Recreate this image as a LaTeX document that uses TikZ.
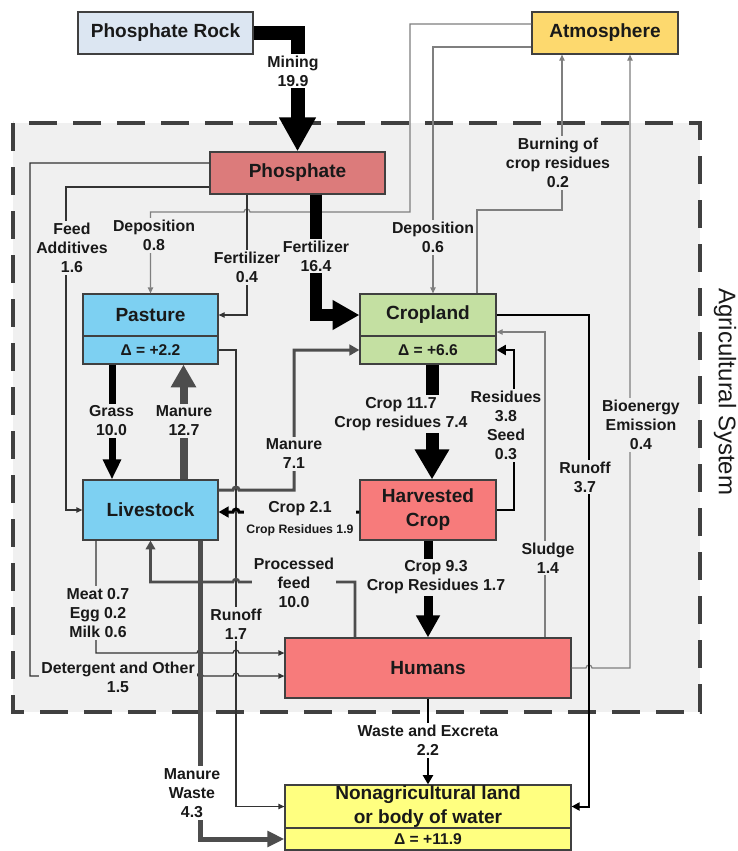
\documentclass[tikz,border=0pt]{standalone}
\usepackage{fontspec}
\setmainfont{Liberation Sans}
\usetikzlibrary{arrows.meta,calc}
\newdimen\pxu \pxu=0.75pt
\definecolor{bgc}{HTML}{F0F0F0}
\definecolor{boxline}{HTML}{404040}
\definecolor{rockc}{HTML}{DCE6F2}
\definecolor{atmc}{HTML}{FDD96E}
\definecolor{phosc}{HTML}{DC7B7B}
\definecolor{pastc}{HTML}{7DD0F2}
\definecolor{cropc}{HTML}{C4E0A2}
\definecolor{harvc}{HTML}{F77B7B}
\definecolor{nonagc}{HTML}{FFFF80}
\definecolor{mang}{HTML}{4D4D4D}
\definecolor{thing}{HTML}{7F7F7F}
\begin{document}
\begin{tikzpicture}[x=0.75pt,y=0.75pt,
  box/.style={draw=boxline,line width=0.9pt,inner sep=0pt,align=center,
    font=\bfseries\fontsize{14.3}{18}\selectfont,text=black!90},
  dbox/.style={box,font=\bfseries\fontsize{11.7}{14}\selectfont},
  lab/.style={font=\bfseries\fontsize{11.9}{14.25}\selectfont,align=center,
    fill=bgc,inner sep=1.5pt,text=black!90},
  wlab/.style={lab,fill=white},
  thinl/.style={draw=black!80,line width=0.9pt,-{Triangle[length=4.5pt,width=4pt]}},
  grayl/.style={draw=thing,line width=0.9pt,-{Triangle[length=4.5pt,width=4pt]}},
  sysborder/.style={draw=black!75,line width=2.6pt,dash pattern=on 21pt off 12pt}
]
\useasboundingbox (0,0) rectangle (738,-851);
\fill[white] (0,0) rectangle (738,-851);

% agricultural system frame
\fill[bgc] (13,-123) rectangle (700,-712);
\draw[sysborder] (13,-123) rectangle (700,-712);
\node[rotate=-90,font=\fontsize{18}{20}\selectfont,text=black!90] (agri) at (725,-392) {Agricultural System};

% boxes
\node[box,fill=rockc,minimum width=175\pxu,minimum height=42\pxu] (rock) at (165.5,-33) {Phosphate Rock};
\node[box,fill=atmc,minimum width=146\pxu,minimum height=42\pxu] (atm) at (605,-33) {Atmosphere};
\node[box,fill=phosc,minimum width=175\pxu,minimum height=42\pxu] (phos) at (297.5,-173) {Phosphate};
\node[box,fill=pastc,minimum width=135\pxu,minimum height=42\pxu] (past) at (150.5,-315) {Pasture};
\node[dbox,fill=pastc,minimum width=135\pxu,minimum height=28\pxu] (pastd) at (150.5,-350) {Δ = +2.2};
\node[box,fill=cropc,minimum width=136\pxu,minimum height=42\pxu] (crop) at (428,-315) {Cropland};
\node[dbox,fill=cropc,minimum width=136\pxu,minimum height=28\pxu] (cropd) at (428,-350) {Δ = +6.6};
\node[box,fill=pastc,minimum width=135\pxu,minimum height=60\pxu] (live) at (150.5,-510) {Livestock};
\node[box,fill=harvc,minimum width=136\pxu,minimum height=60\pxu] (harv) at (428,-510) {Harvested\\Crop};
\node[box,fill=harvc,minimum width=286\pxu,minimum height=60\pxu] (hum) at (428,-668) {Humans};
\node[box,fill=nonagc,minimum width=286\pxu,minimum height=43\pxu] (nonag) at (428,-806.5) {Nonagricultural land\\or body of water};
\node[dbox,fill=nonagc,minimum width=286\pxu,minimum height=22\pxu] (nonagd) at (428,-839) {Δ = +11.9};

% thin connectors
\draw[grayl] ($(atm.west)+(0,9)$) -| (410,-212) -- (250,-212)
  arc[start angle=0,end angle=180,radius=2.25pt] -| (past.north);
\draw[grayl] ($(atm.west)+(0,-14)$) -| ($(crop.north)+(5,0)$);
\draw[grayl] ($(crop.north)+(49,0)$) |- (562,-210) -- ($(atm.south)+(-43,0)$);
\draw[thinl] ($(phos.south)+(-50.5,0)$) |- (past.east);
\draw[thinl] ($(phos.west)+(0,-14)$) -- (66,-187) |- (live.west);
\draw[thinl] ($(phos.west)+(0,10)$) -- (30,-163) -- (30,-676) -- (197,-676)
  arc[start angle=180,end angle=0,radius=2.25pt] -- (233,-676)
  arc[start angle=180,end angle=0,radius=2.25pt] -- ($(hum.west)+(0,-8)$);
\draw[thinl] ($(live.south)+(-54.5,0)$) -- (96,-653) -- (197,-653)
  arc[start angle=180,end angle=0,radius=2.25pt] -- (233,-653)
  arc[start angle=180,end angle=0,radius=2.25pt] -- ($(hum.west)+(0,15)$);
\draw[thinl] (pastd.east) -| (236,-806.5) -- (nonag.west);
\draw[grayl] ($(hum.north)+(117,0)$) |- ($(crop.east)+(0,-17)$);
\draw[grayl] (hum.east) -- (586,-668) arc[start angle=180,end angle=0,radius=2.25pt]
  -- (630,-668) -- ($(atm.south)+(25,0)$);
\draw[black,line width=1.5pt,-{Triangle[length=6pt,width=6pt]}] (crop.east) -| (589,-806.5) -- (nonag.east);

% medium connectors
\draw[black,line width=1.9pt,-{Triangle[length=7pt,width=7.5pt]}] (harv.east) -| (514,-350) -- (cropd.east);
\draw[black,line width=2.25pt,-{Triangle[length=7.5pt,width=8pt]}] ($(harv.west)+(0,-2)$) -- (239,-512)
  arc[start angle=0,end angle=180,radius=2.25pt] -- ($(live.east)+(0,-2)$);
\draw[mang,line width=2.25pt,-{Triangle[length=7.5pt,width=8pt]}] ($(live.east)+(0,20)$) -- (233,-490)
  arc[start angle=180,end angle=0,radius=2.25pt] -- (294,-490) |- (cropd.west);
\draw[mang,line width=1.9pt,-{Triangle[length=6.5pt,width=7pt]}] ($(hum.north)+(-73,0)$) -- (355,-582) -- (239,-582)
  arc[start angle=0,end angle=180,radius=2.25pt] -| (live.south);
\draw[black,line width=2.2pt,-{Triangle[length=7pt,width=7.5pt]}] (hum.south) -- (nonag.north);

% thick connectors
\draw[black,line width=10.5pt,-{Triangle[length=25.5pt,width=26pt]}] (rock.east) -| (phos.north);
\draw[black,line width=9pt,-{Triangle[length=20pt,width=21pt]}] ($(phos.south)+(18.5,0)$) |- (crop.west);
\draw[black,line width=9.75pt,-{Triangle[length=22.5pt,width=24.5pt]}] ($(cropd.south)+(4,0)$) -- ($(harv.north)+(4,0)$);
\draw[black,line width=6.75pt,-{Triangle[length=16.5pt,width=17pt]}] (harv.south) -- (hum.north);
\draw[black,line width=5.25pt,-{Triangle[length=15pt,width=13pt]}] ($(pastd.south)+(-38.5,0)$) -- ($(live.north)+(-38.5,0)$);
\draw[mang,line width=6pt,-{Triangle[length=17pt,width=18pt]}] ($(live.north)+(33,0)$) -- ($(pastd.south)+(33,0)$);
\draw[mang,line width=3.75pt,-{Triangle[length=12.75pt,width=11.5pt]}] ($(live.south)+(49.5,0)$) |- (nonagd.west);

% labels
\node[wlab] (lmin) at (293,-71) {Mining\\19.9};
\node[lab] (lf16) at (316,-256) {Fertilizer\\16.4};
\node[lab] (lf04) at (247,-267.5) {Fertilizer\\0.4};
\node[lab] (lfeed) at (72,-248) {Feed\\Additives\\1.6};
\node[lab] (ld08) at (154,-235.5) {Deposition\\0.8};
\node[lab] (ld06) at (433,-237.5) {Deposition\\0.6};
\node[lab] (lburn) at (558,-163) {Burning of\\crop residues\\0.2};
\node[lab] (lbio) at (641,-425) {Bioenergy\\Emission\\0.4};
\node[lab] (lr37) at (585,-477) {Runoff\\3.7};
\node[lab] (lsl) at (548,-558) {Sludge\\1.4};
\node[lab] (lres) at (506,-425.5) {Residues\\3.8\\Seed\\0.3};
\node[lab] (lc117) at (401,-414) {Crop 11.7\\Crop residues 7.4};
\node[lab] (lc93) at (436,-577.5) {Crop 9.3\\Crop Residues 1.7};
\node[lab] (lc21) at (300,-519) {Crop 2.1\\[1.5pt]{\fontsize{9.2}{11}\selectfont Crop Residues 1.9}};
\node[lab] (lgr) at (111.5,-421) {Grass\\10.0};
\node[lab] (lm127) at (184,-421) {Manure\\12.7};
\node[lab] (lm71) at (294,-454) {Manure\\7.1};
\node[wlab] (lmw) at (192,-793) {Manure\\Waste\\4.3};
\node[lab] (lpf) at (294,-583) {Processed\\feed\\10.0};
\node[lab] (lr17) at (236,-624) {Runoff\\1.7};
\node[lab] (lmeat) at (98,-613) {Meat 0.7\\Egg 0.2\\Milk 0.6};
\node[lab] (ldet) at (118,-677) {Detergent and Other\\1.5};
\node[wlab] (lwe) at (428,-740.5) {Waste and Excreta\\2.2};
\end{tikzpicture}
\end{document}
